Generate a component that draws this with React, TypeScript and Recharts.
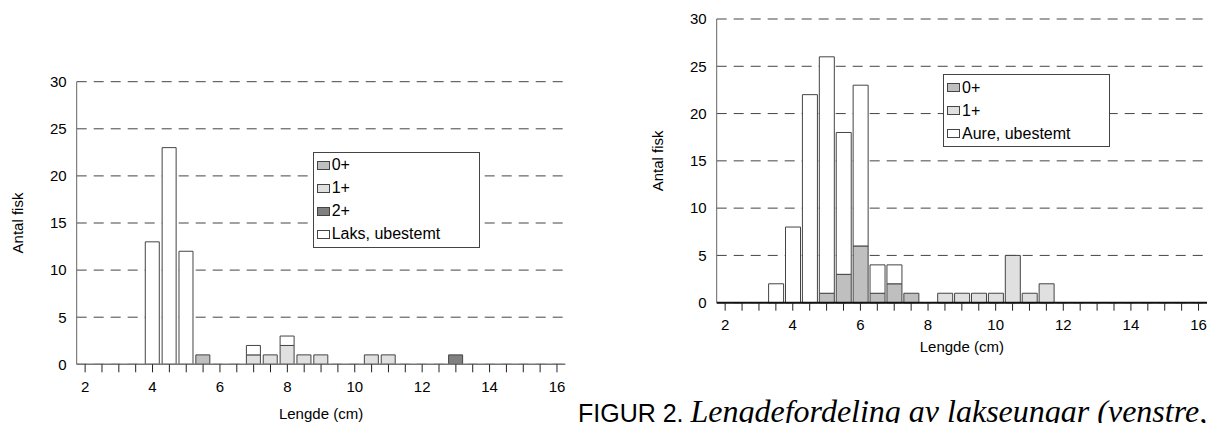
import React from 'react';
import { BarChart, Bar, XAxis, YAxis, CartesianGrid, Legend, Label } from 'recharts';

// length classes (cm), one bar per 0.5 cm
const LENGTHS = [2, 2.5, 3, 3.5, 4, 4.5, 5, 5.5, 6, 6.5, 7, 7.5, 8, 8.5, 9, 9.5, 10, 10.5, 11, 11.5, 12, 12.5, 13, 13.5, 14, 14.5, 15, 15.5, 16];
const X_LABELS = [2, 4, 6, 8, 10, 12, 14, 16];
const Y_TICKS = [0, 5, 10, 15, 20, 25, 30];

// laks (left panel)
const LAKS_0 = [0, 0, 0, 0, 0, 0, 0, 1, 0, 0, 0, 0, 0, 0, 0, 0, 0, 0, 0, 0, 0, 0, 0, 0, 0, 0, 0, 0, 0];
const LAKS_1 = [0, 0, 0, 0, 0, 0, 0, 0, 0, 0, 1, 1, 2, 1, 1, 0, 0, 1, 1, 0, 0, 0, 0, 0, 0, 0, 0, 0, 0];
const LAKS_2 = [0, 0, 0, 0, 0, 0, 0, 0, 0, 0, 0, 0, 0, 0, 0, 0, 0, 0, 0, 0, 0, 0, 1, 0, 0, 0, 0, 0, 0];
const LAKS_U = [0, 0, 0, 0, 13, 23, 12, 0, 0, 0, 1, 0, 1, 0, 0, 0, 0, 0, 0, 0, 0, 0, 0, 0, 0, 0, 0, 0, 0];

// aure (right panel)
const AURE_0 = [0, 0, 0, 0, 0, 0, 1, 3, 6, 1, 2, 1, 0, 0, 0, 0, 0, 0, 0, 0, 0, 0, 0, 0, 0, 0, 0, 0, 0];
const AURE_1 = [0, 0, 0, 0, 0, 0, 0, 0, 0, 0, 0, 0, 0, 1, 1, 1, 1, 5, 1, 2, 0, 0, 0, 0, 0, 0, 0, 0, 0];
const AURE_U = [0, 0, 0, 2, 8, 22, 25, 15, 17, 3, 2, 0, 0, 0, 0, 0, 0, 0, 0, 0, 0, 0, 0, 0, 0, 0, 0, 0, 0];

const C0 = '#bfbfbf';
const C1 = '#e0e0e0';
const C2 = '#808080';
const CU = '#ffffff';
const EDGE = '#444';
const FONT = '"Liberation Sans", Arial, sans-serif';

const laksData = LENGTHS.map((len, i) => ({ len, g0: LAKS_0[i], g1: LAKS_1[i], g2: LAKS_2[i], u: LAKS_U[i] }));
const aureData = LENGTHS.map((len, i) => ({ len, g0: AURE_0[i], g1: AURE_1[i], u: AURE_U[i] }));

type Item = { label: string; color: string };

const LegendBox = ({ items }: { items: Item[] }) => (
  <div style={{ border: '1px solid #444', background: '#fff', padding: '1px 0 1px 3px', fontFamily: FONT, fontSize: 16, color: '#000' }}>
    {items.map((it) => (
      <div key={it.label} style={{ display: 'flex', alignItems: 'center', height: 23 }}>
        <span style={{ display: 'inline-block', width: 11, height: 7, border: '1px solid #444', background: it.color, marginRight: 2 }} />
        {it.label}
      </div>
    ))}
  </div>
);

const yTitle = ({ viewBox }: any) => {
  const cx = viewBox.x + 18;
  const cy = viewBox.y + viewBox.height / 2;
  return (
    <text x={cx} y={cy} dy="0.35em" textAnchor="middle" fontSize={15} fill="#000" transform={`rotate(-90, ${cx}, ${cy})`}>
      Antal fisk
    </text>
  );
};

const xTitle = (gap: number) => ({ viewBox }: any) => (
  <text x={viewBox.x + viewBox.width / 2} y={viewBox.y + gap} dy="0.35em" textAnchor="middle" fontSize={15} fill="#000">
    Lengde (cm)
  </text>
);

interface PanelProps {
  data: any[];
  keys: { key: string; color: string }[];
  legend: Item[];
  width: number;
  top: number;
  bottom: number;
  right: number;
  titleGap: number;
  baseline: { stroke: string; strokeWidth: number };
  legendPos: { left: number; top: number; width: number };
}

const Panel = ({ data, keys, legend, width, top, bottom, right, titleGap, baseline, legendPos }: PanelProps) => (
  <BarChart width={width} height={423} data={data} margin={{ top, right, bottom: 423 - bottom - 60, left: 0 }} barCategoryGap="7%">
    <CartesianGrid vertical={false} stroke="#444" strokeDasharray="10 7" />
    <XAxis
      dataKey="len"
      interval={0}
      height={60}
      tickSize={8}
      tickMargin={9}
      axisLine={baseline}
      tickLine={{ stroke: '#222' }}
      tick={{ fill: '#000', fontSize: 15 }}
      tickFormatter={(v: number) => (X_LABELS.includes(v) ? String(v) : '')}
    >
      <Label content={xTitle(titleGap)} />
    </XAxis>
    <YAxis
      type="number"
      domain={[0, 30]}
      ticks={Y_TICKS}
      interval={0}
      width={76.7}
      tickLine={false}
      tickSize={0}
      tickMargin={10}
      axisLine={{ stroke: '#666' }}
      tick={{ fill: '#000', fontSize: 15 }}
    >
      <Label content={yTitle} />
    </YAxis>
    <YAxis yAxisId="r" orientation="right" width={0} domain={[0, 30]} tick={false} tickLine={false} axisLine={{ stroke: '#666' }} />
    {keys.map((k) => (
      <Bar key={k.key} dataKey={k.key} stackId="a" fill={k.color} stroke={EDGE} strokeWidth={1} isAnimationActive={false} />
    ))}
    <Legend
      layout="vertical"
      align="center"
      verticalAlign="middle"
      wrapperStyle={{ left: legendPos.left, top: legendPos.top, width: legendPos.width }}
      content={() => <LegendBox items={legend} />}
    />
  </BarChart>
);

export default function App() {
  return (
    <div style={{ position: 'absolute', left: 0, top: 0, width: 1209, height: 423, overflow: 'hidden', background: '#fff', fontFamily: FONT }}>
      <div style={{ position: 'absolute', left: 0, top: 0 }}>
        <Panel
          data={laksData}
          keys={[{ key: 'g0', color: C0 }, { key: 'g1', color: C1 }, { key: 'g2', color: C2 }, { key: 'u', color: CU }]}
          legend={[{ label: '0+', color: C0 }, { label: '1+', color: C1 }, { label: '2+', color: C2 }, { label: 'Laks, ubestemt', color: CU }]}
          width={600}
          top={81.7}
          bottom={364.3}
          right={34.6}
          titleGap={49.7}
          baseline={{ stroke: '#777', strokeWidth: 1.5 }}
          legendPos={{ left: 312.7, top: 151.7, width: 167 }}
        />
      </div>
      <div style={{ position: 'absolute', left: 640, top: 0 }}>
        <Panel
          data={aureData}
          keys={[{ key: 'g0', color: C0 }, { key: 'g1', color: C1 }, { key: 'u', color: CU }]}
          legend={[{ label: '0+', color: C0 }, { label: '1+', color: C1 }, { label: 'Aure, ubestemt', color: CU }]}
          width={569}
          top={19}
          bottom={302.7}
          right={2}
          titleGap={44.3}
          baseline={{ stroke: '#111', strokeWidth: 2 }}
          legendPos={{ left: 303, top: 74, width: 167 }}
        />
      </div>
      <div style={{ position: 'absolute', left: 578, top: 395, fontSize: 32, lineHeight: '32px', whiteSpace: 'nowrap', color: '#000' }}>
        <span style={{ fontFamily: FONT, fontSize: 25 }}>FIGUR 2. </span>
        <span style={{ fontFamily: '"Liberation Serif", "Times New Roman", serif', fontStyle: 'italic' }}>Lengdefordeling av lakseungar (venstre,</span>
      </div>
    </div>
  );
}
